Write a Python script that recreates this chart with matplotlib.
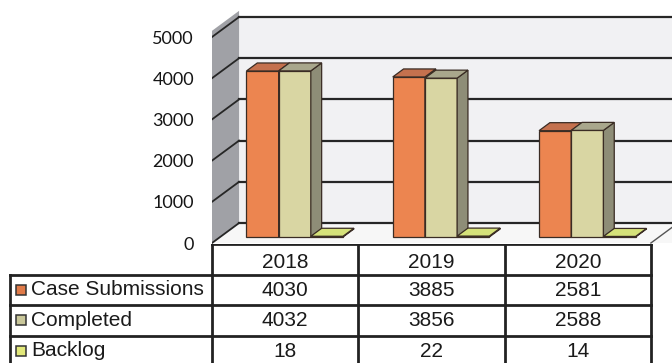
import matplotlib.pyplot as plt
from matplotlib.patches import Polygon, Rectangle

years = ["2018", "2019", "2020"]
series = ["Case Submissions", "Completed", "Backlog"]
case_submissions = [4030, 3885, 2581]
completed = [4032, 3856, 2588]
backlog = [18, 22, 14]
y_ticks = [0, 1000, 2000, 3000, 4000, 5000]

front_colors = ["#EC8550", "#D9D6A3", "#D3DF6E"]
top_colors = ["#C4714E", "#A9A78C", "#D6E27A"]
side_colors = ["#B0603A", "#8E8D77", "#A3AD4C"]
key_colors = ["#E07A48", "#C9C79A", "#E2E87A"]
edge = "#3A2C24"
grid = "#262626"

# pseudo-3D geometry: full depth of the box and where the bars sit in it
DX, DY = 0.185, 485          # depth offset in (category units, value units)
f_front, f_depth = 0.3, 0.4   # bar front plane and bar depth as fractions of DX/DY
bar_w = 0.22
offsets = [-0.21, 0.01, 0.23]

W, H = 672, 363
PX_X = 146.3     # pixels per category
PX_V = 0.0412    # pixels per value unit
fig = plt.figure(figsize=(W / 100, H / 100), dpi=100)

# chart axes: front plane x in categories, y in values
ax = fig.add_axes([212 / W, (H - 245) / H, 460 / W, 245 / H])
ax.set_xlim(-0.5, -0.5 + 460 / PX_X)
ax.set_ylim(-2 / PX_V, 243 / PX_V)
for s in ax.spines.values():
    s.set_visible(False)
ax.set_xticks([])
ax.set_yticks(y_ticks)
ax.set_yticklabels([str(v) for v in y_ticks], family="Lato", fontsize=13, color="#151515")
ax.tick_params(axis="y", length=0, pad=13)

top = max(y_ticks)
wall_top = top + 150
x_right = 3.2

# walls and floor
ax.add_patch(Polygon([(-0.5 + DX, DY), (x_right, DY), (x_right, top + DY), (-0.5 + DX, top + DY)],
                     closed=True, facecolor="#F1F1F3", edgecolor="none", zorder=1))
ax.add_patch(Polygon([(-0.5, 0), (-0.5 + DX, DY), (-0.5 + DX, wall_top + DY), (-0.5, wall_top)],
                     closed=True, facecolor="#A0A1A6", edgecolor="none", zorder=1))
ax.add_patch(Polygon([(-0.5, 0), (x_right, 0), (x_right, DY), (-0.5 + DX, DY)],
                     closed=True, facecolor="#F7F7F7", edgecolor="none", zorder=1))

for v in y_ticks:
    ax.plot([-0.5 + DX, x_right], [v + DY, v + DY], color=grid, lw=1.6, zorder=2)
    ax.plot([-0.5, -0.5 + DX], [v, v + DY], color=grid, lw=1.3, zorder=2)
ax.plot([2.5, 2.5 + DX], [0, DY], color="#555555", lw=1.0, zorder=2)

# bars, painted left to right so nearer faces cover hidden ones
values = [case_submissions, completed, backlog]
z = 3
for i in range(len(years)):
    for k, vals in enumerate(values):
        v = vals[i]
        xc = i + offsets[k] + f_front * DX
        y0 = f_front * DY
        x0, x1 = xc - bar_w / 2, xc + bar_w / 2
        bx, by = f_depth * DX, f_depth * DY
        ax.bar(xc, v, width=bar_w, bottom=y0, color=front_colors[k],
               edgecolor=edge, linewidth=0.9, zorder=z)
        ax.add_patch(Polygon([(x1, y0), (x1 + bx, y0 + by), (x1 + bx, y0 + v + by), (x1, y0 + v)],
                             closed=True, facecolor=side_colors[k], edgecolor=edge,
                             linewidth=0.9, zorder=z))
        ax.add_patch(Polygon([(x0, y0 + v), (x1, y0 + v), (x1 + bx, y0 + v + by), (x0 + bx, y0 + v + by)],
                             closed=True, facecolor=top_colors[k], edgecolor=edge,
                             linewidth=0.9, zorder=z))
        z += 1

# data table underneath, sharing the category scale
tab = fig.add_axes([0, (H - 366) / H, 1, 122 / H])
x_left_px = 10
tab.set_xlim(-0.5 - 212 / PX_X, -0.5 + 460 / PX_X)
tab.set_ylim(4, 0)
tab.axis("off")
x_left = -0.5 - (212 - x_left_px) / PX_X
line_kw = dict(color="#222222", lw=2.0, solid_capstyle="projecting")

tab.plot([-0.5, 2.5], [0, 0], **line_kw)
for xv in [-0.5, 0.5, 1.5, 2.5]:
    tab.plot([xv, xv], [0, 4], **line_kw)
for r in [1, 2, 3]:
    tab.plot([x_left, 2.5], [r, r], **line_kw)
tab.plot([x_left, x_left], [1, 4], **line_kw)

font = dict(family="Liberation Sans", fontsize=15, color="#1A1A1A")
for i, yr in enumerate(years):
    tab.text(i, 0.6, yr, ha="center", va="center", **font)

key_w = 10 / PX_X
for k, (name, vals) in enumerate(zip(series, values)):
    r = k + 1
    tab.add_patch(Rectangle((x_left + 6 / PX_X, r + 0.5 - 0.17), key_w, 0.34,
                            facecolor=key_colors[k], edgecolor="#333333", lw=1.1))
    tab.text(x_left + 21 / PX_X, r + 0.5, name, ha="left", va="center", **font)
    for i in range(len(years)):
        tab.text(i, r + 0.52, str(vals[i]), ha="center", va="center", **font)

fig.savefig("out.png", dpi=100, facecolor="white")
